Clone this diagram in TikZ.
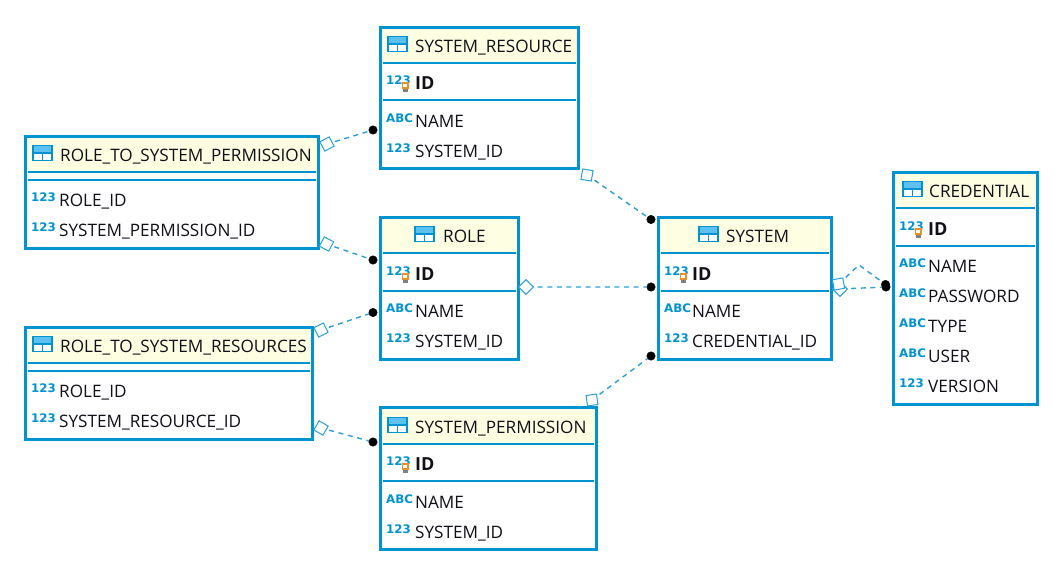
\documentclass[tikz,border=0pt]{standalone}
\usepackage{fontspec}
\setmainfont{Open Sans}
\newfontfamily\iconfont{DejaVu Sans}
\definecolor{erblue}{HTML}{0093D2}
\definecolor{erline}{HTML}{2C9FD8}
\definecolor{erhead}{HTML}{FEFEE2}
\definecolor{ertext}{HTML}{101018}
\definecolor{erkey}{HTML}{E8902A}
\definecolor{ericon}{HTML}{5CC0F0}
\newcommand{\ertable}[7]{% name,x0,y0,x1,y1,sep1,sep2
  \fill[erhead] (#2,#3) rectangle (#4,#6);
  \node[tablebox,minimum width={(#4-#2)*1pt},minimum height={(#5-#3)*1pt}] (#1) at ({(#2+#4)/2},{(#3+#5)/2}) {};
  \draw[sepline] (#2+2,#6) -- (#4-2,#6);
  \draw[sepline] (#2+2,#7) -- (#4-2,#7);
}
\newcommand{\ertitle}[4]{% name,iconx,textx,y + title: draws table icon
  \fill[white] (#2,#4-8) rectangle (#2+19,#4+7);
  \fill[ericon] (#2,#4-8) rectangle (#2+19,#4-1);
  \draw[erblue,line width=1.1pt] (#2,#4-8.5) rectangle (#2+19,#4+6.5);
  \draw[erblue,line width=1.1pt] (#2,#4-1) -- (#2+19,#4-1) (#2+9.5,#4-1) -- (#2+9.5,#4+6.5);
  \node[rowtext] (#1) at (#3,#4+7) {\titletext};
}
\newcommand{\titletext}{}
\newcommand{\errow}[6]{% name,iconx,textx,y,icon,text
  \node[icontext] (#1i) at (#2,#4+2) {#5};
  \node[rowtext] (#1) at (#3,#4+7) {#6};
}
\newcommand{\erkeyrow}[4]{% name,iconx,textx,y
  \node[icontext] (#1i) at (#2,#4+2.5) {123};
  \fill[erkey] (#2+15.5,#4) rectangle (#2+22.5,#4+7);
  \fill[white] (#2+17,#4+1.5) rectangle (#2+21,#4+5);
  \fill[gray] (#2+16.5,#4+7) rectangle (#2+21.5,#4+10);
  \node[rowtext,font=\fontsize{18}{20}\selectfont\bfseries] (#1) at (#3,#4+7) {ID};
}
\tikzset{
  x=1pt,y=-1pt,
  tablebox/.style={draw=erblue,line width=3pt,fill=none,inner sep=0pt},
  sepline/.style={draw=erblue,line width=2pt},
  rowtext/.style={anchor=base west,inner sep=0pt,text=ertext,font=\fontsize{17.15}{20}\selectfont},
  icontext/.style={anchor=base west,inner sep=0pt,text=erblue,font=\iconfont\fontsize{11.8}{13}\selectfont\bfseries},
  fkend/.style={draw=erline,fill=white,line width=1pt,rectangle,minimum size=10.5pt,inner sep=0pt,outer sep=3pt},
  pkend/.style={circle,fill=black,draw=black,minimum size=8.5pt,inner sep=0pt,line width=0.4pt},
  relline/.style={draw=erline,line width=1.4pt,dash pattern=on 5pt off 4.6pt},
}
\begin{document}
\begin{tikzpicture}
\useasboundingbox (0,0) rectangle (1060,570);
\fill[white] (0,0) rectangle (1060,570);

% SYSTEM_RESOURCE
\ertable{sr}{380.5}{27}{578}{168}{63}{100}
\renewcommand{\titletext}{SYSTEM\_RESOURCE}\ertitle{srt}{388}{415}{45}
\erkeyrow{srid}{386}{415}{82}
\errow{srn}{386}{415}{120}{ABC}{NAME}
\errow{srs}{386}{415}{150}{123}{SYSTEM\_ID}

% ROLE
\ertable{ro}{380.5}{217}{518}{359}{253}{291}
\renewcommand{\titletext}{ROLE}\ertitle{rot}{415}{443}{235}
\erkeyrow{roid}{386}{415}{273}
\errow{ron}{386}{415}{310}{ABC}{NAME}
\errow{ros}{386}{415}{340}{123}{SYSTEM\_ID}

% SYSTEM_PERMISSION
\ertable{sp}{380.5}{407}{596}{549}{444}{481}
\renewcommand{\titletext}{SYSTEM\_PERMISSION}\ertitle{spt}{388}{415}{426}
\erkeyrow{spid}{386}{415}{463}
\errow{spn}{386}{415}{501}{ABC}{NAME}
\errow{sps}{386}{415}{531}{123}{SYSTEM\_ID}

% SYSTEM
\ertable{sy}{658.5}{217}{831}{359}{253}{291}
\renewcommand{\titletext}{SYSTEM}\ertitle{syt}{699}{726}{235}
\erkeyrow{syid}{664}{692}{273}
\errow{syn}{664}{692}{310}{ABC}{NAME}
\errow{syc}{664}{692}{340}{123}{CREDENTIAL\_ID}

% CREDENTIAL
\ertable{cr}{893.5}{172}{1037}{404}{208}{246}
\renewcommand{\titletext}{CREDENTIAL}\ertitle{crt}{903}{929}{190}
\erkeyrow{crid}{899}{928}{228}
\errow{crn}{899}{928}{265}{ABC}{NAME}
\errow{crp}{899}{928}{295}{ABC}{PASSWORD}
\errow{crty}{899}{928}{325}{ABC}{TYPE}
\errow{cru}{899}{928}{355}{ABC}{USER}
\errow{crv}{899}{928}{385}{123}{VERSION}

% ROLE_TO_SYSTEM_PERMISSION
\ertable{rp}{25.5}{136}{318}{248}{172}{180}
\renewcommand{\titletext}{ROLE\_TO\_SYSTEM\_PERMISSION}\ertitle{rpt}{33}{60}{154}
\errow{rpr}{31}{59}{199}{123}{ROLE\_ID}
\errow{rps}{31}{59}{229}{123}{SYSTEM\_PERMISSION\_ID}

% ROLE_TO_SYSTEM_RESOURCES
\ertable{rr}{25.5}{327}{312}{439}{363}{371}
\renewcommand{\titletext}{ROLE\_TO\_SYSTEM\_RESOURCES}\ertitle{rrt}{33}{60}{345}
\errow{rrr}{31}{59}{390}{123}{ROLE\_ID}
\errow{rrs}{31}{59}{420}{123}{SYSTEM\_RESOURCE\_ID}

% relationship ends
\node[fkend,rotate=28] (f1) at (327,144) {};
\node[pkend] (p1) at (373,130) {};
\node[fkend,rotate=62] (f2) at (326.5,244) {};
\node[pkend] (p2) at (373,260) {};
\node[fkend,rotate=26] (f3) at (321,330) {};
\node[pkend] (p3) at (373,312.5) {};
\node[fkend,rotate=60] (f4) at (321,428) {};
\node[pkend] (p4) at (373,442) {};
\node[fkend,rotate=80] (f5) at (587,175) {};
\node[pkend] (p5) at (651,219.5) {};
\node[fkend,rotate=45] (f6) at (526,287) {};
\node[pkend] (p6) at (651,287) {};
\node[fkend,rotate=8] (f7) at (592,400) {};
\node[pkend] (p7) at (651,356) {};
\node[fkend,rotate=45] (f8) at (840,289) {};
\node[pkend] (p8) at (886,287) {};
\node[fkend,rotate=10] (f9) at (838.5,284) {};
\node[pkend] (p9) at (885.5,284.5) {};
\coordinate (bend) at (859,265);

\draw[relline] (f1) -- (p1);
\draw[relline] (f2) -- (p2);
\draw[relline] (f3) -- (p3);
\draw[relline] (f4) -- (p4);
\draw[relline] (f5) -- (p5);
\draw[relline] (f6) -- (p6);
\draw[relline] (f7) -- (p7);
\draw[relline] (f8) -- (p8);
\draw[relline] (f9) -- (bend) -- (p9);
\end{tikzpicture}
\end{document}
